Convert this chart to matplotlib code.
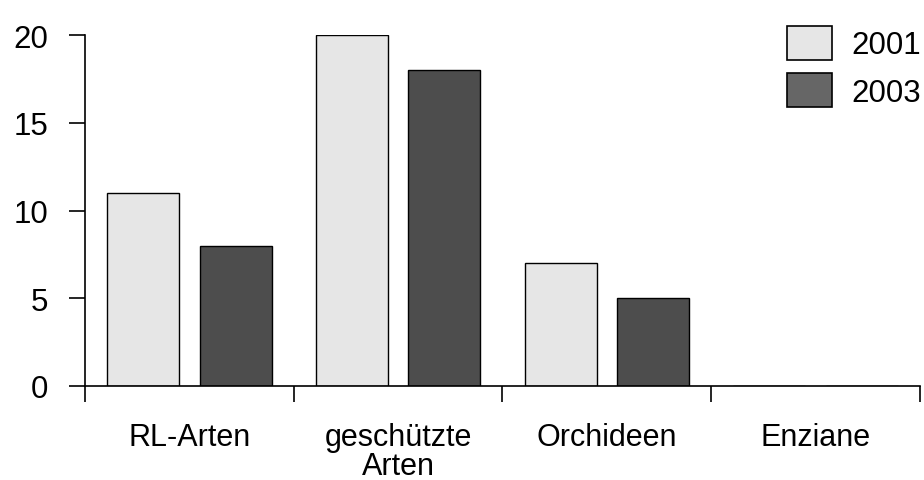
import matplotlib.pyplot as plt
import numpy as np

categories = ["RL-Arten", "geschützte\nArten", "Orchideen", "Enziane"]
years = ["2001", "2003"]
values_2001 = [11, 20, 7, 0]
values_2003 = [8, 18, 5, 0]

plt.rcParams["font.family"] = ["Liberation Sans", "DejaVu Sans"]


def plot_bars():
    fig = plt.figure(figsize=(9.24, 4.81), dpi=100)
    ax = fig.add_axes([85 / 924, 1 - 387 / 481, 835 / 924, 351 / 481])

    x = np.arange(len(categories)) + 0.5
    width = 0.345
    offset = 0.222

    ax.bar(x - offset, values_2001, width, color="#e6e6e6", edgecolor="black", linewidth=1.0,
           label=years[0])
    ax.bar(x + offset, values_2003, width, color="#4d4d4d", edgecolor="black", linewidth=1.0,
           label=years[1])

    ax.set_xlim(0, len(categories))
    ax.set_ylim(0, 20)

    for side in ("top", "right"):
        ax.spines[side].set_visible(False)
    ax.spines["left"].set_linewidth(1.2)
    ax.spines["bottom"].set_linewidth(1.2)

    ax.set_yticks([0, 5, 10, 15, 20])
    ax.tick_params(axis="y", length=11.5, width=1.2, pad=15, labelsize=22.5)

    ax.set_xticks(x)
    ax.set_xticklabels(categories, fontsize=22, linespacing=0.95)
    ax.set_xticks(np.arange(len(categories) + 1), minor=True)
    ax.tick_params(axis="x", which="major", length=0, pad=26)
    ax.tick_params(axis="x", which="minor", length=11.5, width=1.2)

    h1 = plt.Rectangle((0, 0), 1, 1, facecolor="#e6e6e6", edgecolor="black", linewidth=1.2)
    h2 = plt.Rectangle((0, 0), 1, 1, facecolor="#666666", edgecolor="black", linewidth=1.2)
    fig.legend([h1, h2], years, loc="upper right", bbox_to_anchor=(1.02, 0.99), frameon=False,
               fontsize=22.5, handlelength=1.45, handleheight=1.3, handletextpad=0.6,
               labelspacing=0.42, borderpad=0.2)

    fig.savefig("out.png", dpi=100)
    return fig, ax


if __name__ == '__main__':
    plot_bars()
